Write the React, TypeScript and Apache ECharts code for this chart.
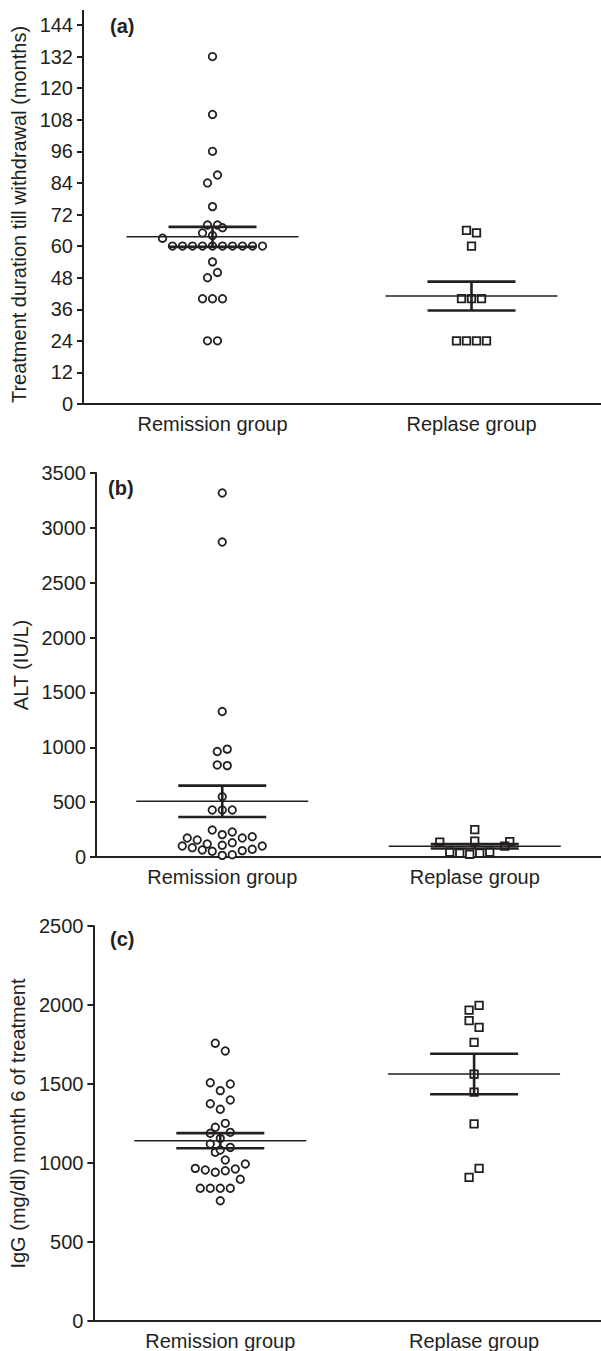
import React, { useEffect, useRef } from "react";
import * as echarts from "echarts";

const categories = ["Remission group", "Replase group"];

// Panel (a): Treatment duration till withdrawal (months)
const aRemission = [132, 110, 96, 87, 84, 75, 68, 68, 67, 65, 64, 63, 60, 60, 60, 60, 60, 60, 60, 60, 60, 60, 54, 50, 48, 40, 40, 40, 24, 24];
const aRemissionSlot = [0, 0, 0, 1, -1, 0, -1, 1, 2, -2, 0, -10, -8, -6, -4, -2, 0, 2, 4, 6, 8, 10, 0, 1, -1, -2, 0, 2, -1, 1];
const aReplase = [66, 65, 60, 40, 40, 40, 24, 24, 24, 24];
const aReplaseSlot = [-1, 1, 0, -2, 0, 2, -3, -1, 1, 3];
const aMean = [63.5, 41];
const aSem = [3.8, 5.5];

// Panel (b): ALT (IU/L)
const bRemission = [3318, 2871, 1326, 961, 983, 839, 833, 550, 429, 429, 429, 246, 204, 228, 173, 155, 119, 107, 130, 173, 185, 100, 85, 64, 52, 15, 21, 58, 70, 100];
const bRemissionSlot = [0, 0, 0, -1, 1, -1, 1, 0, -2, 0, 2, -2, 0, 2, -7, -5, -3, 0, 2, 4, 6, -8, -6, -4, -2, 0, 2, 4, 6, 8];
const bReplase = [250, 135, 145, 140, 45, 35, 25, 35, 45, 100];
const bReplaseSlot = [0, -7, 0, 7, -5, -3, -1, 1, 3, 6];
const bMean = [508, 97];
const bSem = [143, 20];

// Panel (c): IgG (mg/dl) month 6 of treatment
const cRemission = [1758, 1709, 1508, 1500, 1458, 1375, 1399, 1340, 1251, 1226, 1188, 1194, 1156, 1120, 1099, 1068, 1082, 1019, 966, 956, 941, 951, 962, 994, 897, 840, 840, 840, 840, 761];
const cRemissionSlot = [-1, 1, -2, 2, 0, -2, 2, 0, 1, -1, -2, 2, 0, -2, 2, -1, 0, 1, -5, -3, -1, 1, 3, 5, 4, -4, -2, 0, 2, 0];
const cReplase = [1998, 1968, 1901, 1859, 1764, 1563, 1449, 1247, 966, 909];
const cReplaseSlot = [1, -1, -1, 1, 0, 0, 0, 0, 1, -1];
const cMean = [1141, 1563];
const cSem = [48, 128];

const yNames = [
  "Treatment duration till withdrawal (months)",
  "ALT (IU/L)",
  "IgG (mg/dl) month 6 of treatment",
];
const panelLabels = ["(a)", "(b)", "(c)"];

const FONT = "'Liberation Sans', Arial, Helvetica, sans-serif";
const INK = "#231f20";
const SLOT_PX = 5;

function pts(values: number[], slots: number[], cat: number) {
  return values.map((v, i) => ({ value: [cat, v], symbolOffset: [slots[i] * SLOT_PX, 0] }));
}

export default function App() {
  const ref = useRef<HTMLDivElement>(null);
  useEffect(() => {
    document.body.style.margin = "0";
    const chart = echarts.init(ref.current!, undefined, { renderer: "svg" });

    const grids = [
      { left: 83, top: 25, width: 520, height: 379 },
      { left: 96, top: 473, width: 508, height: 384 },
      { left: 90, top: 926, width: 511, height: 395 },
    ];
    const yCfg = [
      { max: 144, interval: 12, gap: 52 },
      { max: 3500, interval: 500, gap: 65 },
      { max: 2500, interval: 500, gap: 60 },
    ];
    const panels = [
      { rem: aRemission, remSlot: aRemissionSlot, rep: aReplase, repSlot: aReplaseSlot, mean: aMean, sem: aSem },
      { rem: bRemission, remSlot: bRemissionSlot, rep: bReplase, repSlot: bReplaseSlot, mean: bMean, sem: bSem },
      { rem: cRemission, remSlot: cRemissionSlot, rep: cReplase, repSlot: cReplaseSlot, mean: cMean, sem: cSem },
    ];

    const xAxis = grids.map((_, k) => ({
      type: "category",
      gridIndex: k,
      data: categories,
      axisLine: { lineStyle: { color: INK, width: 2 } },
      axisTick: { alignWithLabel: true, length: 6, lineStyle: { color: INK, width: 2 } },
      axisLabel: { color: INK, fontSize: 20, fontFamily: FONT, margin: 10 },
    }));
    const yAxis = grids.map((_, k) => ({
      type: "value",
      gridIndex: k,
      min: 0,
      max: yCfg[k].max,
      interval: yCfg[k].interval,
      name: yNames[k],
      nameLocation: "middle",
      nameGap: yCfg[k].gap,
      nameTextStyle: { color: INK, fontSize: 20, fontFamily: FONT },
      axisLine: { show: true, lineStyle: { color: INK, width: 2 } },
      axisTick: { show: true, length: 6, lineStyle: { color: INK, width: 2 } },
      axisLabel: { color: INK, fontSize: 20, fontFamily: FONT, margin: 10, formatter: (v: number) => String(v) },
      splitLine: { show: false },
    }));

    const series: any[] = [];
    panels.forEach((p, k) => {
      series.push({
        type: "scatter",
        xAxisIndex: k,
        yAxisIndex: k,
        symbol: "circle",
        symbolSize: 7.5,
        itemStyle: { color: "#fff", borderColor: INK, borderWidth: 1.8, opacity: 1 },
        data: pts(p.rem, p.remSlot, 0),
        z: 3,
      });
      series.push({
        type: "scatter",
        xAxisIndex: k,
        yAxisIndex: k,
        symbol: "rect",
        symbolSize: 7.5,
        itemStyle: { color: "#fff", borderColor: INK, borderWidth: 1.8, opacity: 1 },
        data: pts(p.rep, p.repSlot, 1),
        z: 3,
      });
      series.push({
        type: "custom",
        xAxisIndex: k,
        yAxisIndex: k,
        z: 10,
        data: categories.map((_, i) => [i, p.mean[i], p.sem[i]]),
        renderItem: (_params: any, api: any) => {
          const c = api.value(0);
          const m = api.value(1);
          const s = api.value(2);
          const pm = api.coord([c, m]);
          const ph = api.coord([c, m + s]);
          const pl = api.coord([c, m - s]);
          const thick = { stroke: INK, lineWidth: 2.6 };
          return {
            type: "group",
            children: [
              { type: "line", shape: { x1: pm[0] - 86, y1: pm[1], x2: pm[0] + 86, y2: pm[1] }, style: { stroke: INK, lineWidth: 1.5 } },
              { type: "line", shape: { x1: ph[0] - 44, y1: ph[1], x2: ph[0] + 44, y2: ph[1] }, style: thick },
              { type: "line", shape: { x1: pl[0] - 44, y1: pl[1], x2: pl[0] + 44, y2: pl[1] }, style: thick },
              { type: "line", shape: { x1: pm[0], y1: ph[1], x2: pm[0], y2: pl[1] }, style: thick },
            ],
          };
        },
      });
    });

    chart.setOption({
      animation: false,
      backgroundColor: "#fff",
      title: [
        { text: panelLabels[0], left: 110, top: 16 },
        { text: panelLabels[1], left: 108, top: 478 },
        { text: panelLabels[2], left: 110, top: 929 },
      ].map((t) => ({ ...t, padding: 0, textStyle: { color: INK, fontSize: 20, fontWeight: "bold", fontFamily: FONT } })),
      grid: grids,
      xAxis,
      yAxis,
      series,
      graphic: [
        {
          type: "line",
          shape: { x1: grids[0].left, y1: 10, x2: grids[0].left, y2: grids[0].top },
          style: { stroke: INK, lineWidth: 2 },
        },
      ],
    });
    return () => chart.dispose();
  }, []);
  return <div ref={ref} style={{ width: 601, height: 1351 }} />;
}
